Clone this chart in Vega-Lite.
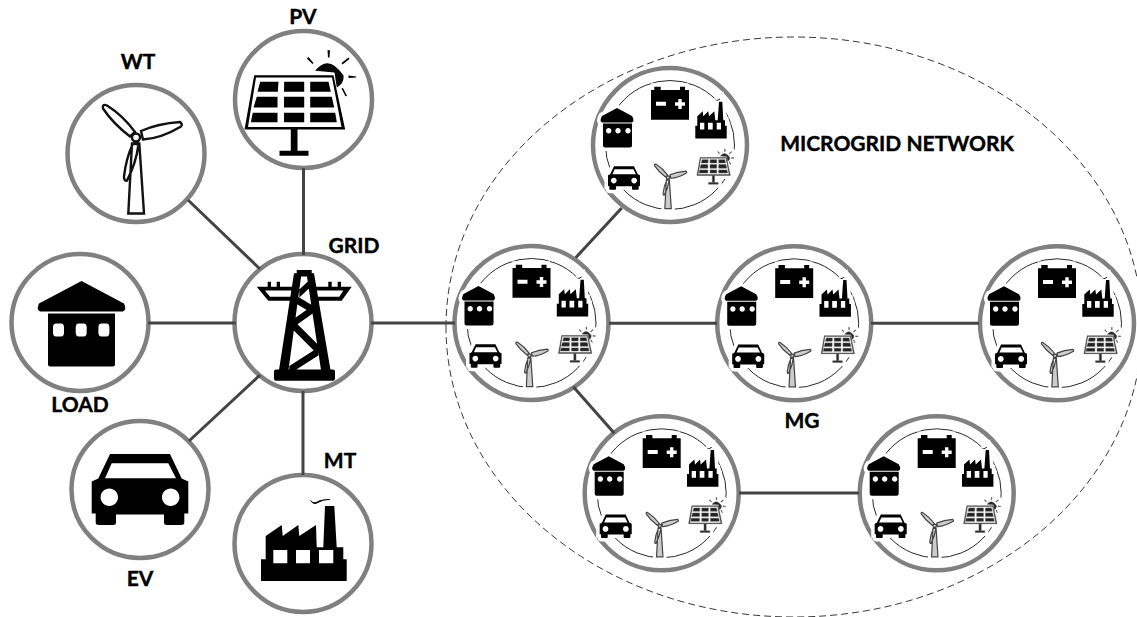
{
"$schema":"https://vega.github.io/schema/vega-lite/v6.json",
"width":1137,"height":617,"autosize":"none","padding":0,"background":"white",
"config":{"view":{"stroke":null},"legend":{"disable":true}},
"datasets":{
"ellipse":[{"name":"MICROGRID NETWORK","x":794,"y":327}],
"nodes":[
{"name":"PV","kind":"big","x":303.5,"y":99.5},
{"name":"WT","kind":"big","x":136,"y":153.5},
{"name":"LOAD","kind":"big","x":80,"y":322.5},
{"name":"GRID","kind":"big","x":303,"y":322.5},
{"name":"EV","kind":"big","x":140,"y":489.5},
{"name":"MT","kind":"big","x":303,"y":543.5},
{"name":"MG1","kind":"mg","x":531.5,"y":323},
{"name":"MG2","kind":"mg","x":670,"y":145},
{"name":"MG3","kind":"mg","x":794.2,"y":323.3},
{"name":"MG4","kind":"mg","x":1057,"y":323.3},
{"name":"MG5","kind":"mg","x":661.7,"y":493.3},
{"name":"MG6","kind":"mg","x":936.7,"y":493.3}
],
"edges":[
{"x":303.5,"y":168,"x2":303.5,"y2":255},
{"x":188,"y":200,"x2":260,"y2":269},
{"x":148,"y":323,"x2":236,"y2":323},
{"x":189,"y":441,"x2":260,"y2":375},
{"x":303,"y":391,"x2":303,"y2":475},
{"x":371,"y":323,"x2":455,"y2":323},
{"x":575.7,"y":257.7,"x2":621.7,"y2":208},
{"x":609,"y":323.3,"x2":717,"y2":323.3},
{"x":871,"y":323.3,"x2":979,"y2":323.3},
{"x":573.3,"y":386.7,"x2":614.3,"y2":433.3},
{"x":739,"y":493,"x2":859,"y2":493}
],
"icons":[
{"kind":"pv","x":303.5,"y":99.5},
{"kind":"wt","x":136,"y":153.5},
{"kind":"load","x":80,"y":322.5},
{"kind":"tower","x":303,"y":322.5},
{"kind":"car","x":140,"y":489.5},
{"kind":"factory","x":303,"y":543.5},
{"kind":"s_load","x":478.5,"y":306},{"kind":"s_battery","x":531.5,"y":282},{"kind":"s_factory","x":572.5,"y":296.5},{"kind":"s_pv","x":578,"y":343.5},{"kind":"s_wt","x":529.5,"y":362},{"kind":"s_car","x":485.5,"y":356},
{"kind":"s_load","x":617,"y":128},{"kind":"s_battery","x":670,"y":104},{"kind":"s_factory","x":711,"y":118.5},{"kind":"s_pv","x":716.5,"y":165.5},{"kind":"s_wt","x":668,"y":184},{"kind":"s_car","x":624,"y":178},
{"kind":"s_load","x":741.2,"y":306.3},{"kind":"s_battery","x":794.2,"y":282.3},{"kind":"s_factory","x":835.2,"y":296.8},{"kind":"s_pv","x":840.7,"y":343.8},{"kind":"s_wt","x":792.2,"y":362.3},{"kind":"s_car","x":748.2,"y":356.3},
{"kind":"s_load","x":1004,"y":306.3},{"kind":"s_battery","x":1057,"y":282.3},{"kind":"s_factory","x":1098,"y":296.8},{"kind":"s_pv","x":1103.5,"y":343.8},{"kind":"s_wt","x":1055,"y":362.3},{"kind":"s_car","x":1011,"y":356.3},
{"kind":"s_load","x":608.7,"y":476.3},{"kind":"s_battery","x":661.7,"y":452.3},{"kind":"s_factory","x":702.7,"y":466.8},{"kind":"s_pv","x":708.2,"y":513.8},{"kind":"s_wt","x":659.7,"y":532.3},{"kind":"s_car","x":615.7,"y":526.3},
{"kind":"s_load","x":883.7,"y":476.3},{"kind":"s_battery","x":936.7,"y":452.3},{"kind":"s_factory","x":977.7,"y":466.8},{"kind":"s_pv","x":983.2,"y":513.8},{"kind":"s_wt","x":934.7,"y":532.3},{"kind":"s_car","x":890.7,"y":526.3}
],
"labels":[
{"text":"PV","x":303,"y":17.5},
{"text":"WT","x":138,"y":63},
{"text":"GRID","x":354,"y":247},
{"text":"LOAD","x":80,"y":406},
{"text":"EV","x":140,"y":580},
{"text":"MT","x":340,"y":462},
{"text":"MG","x":802,"y":422},
{"text":"MICROGRID NETWORK","x":897,"y":145}
]
},
"encoding":{
"x":{"field":"x","type":"quantitative","axis":null,"scale":{"domain":[0,1137],"nice":false,"zero":false}},
"y":{"field":"y","type":"quantitative","axis":null,"scale":{"domain":[617,0],"nice":false,"zero":false}}
},
"layer":[
{"data":{"name":"ellipse"},
 "mark":{"type":"point","filled":false,"opacity":1,"size":4,"stroke":"#222222","strokeWidth":0.9,"strokeDash":[7,4],
 "shape":"M-348,0A348,290 0 1 1 348,0A348,290 0 1 1 -348,0Z"}},
{"data":{"name":"nodes"},"transform":[{"filter":"datum.kind==='big'"}],
 "mark":{"type":"point","shape":"circle","filled":true,"opacity":1,"fill":"white","stroke":"#808080","strokeWidth":4.5,"size":18769}},
{"data":{"name":"nodes"},"transform":[{"filter":"datum.kind==='mg'"}],
 "mark":{"type":"point","shape":"circle","filled":true,"opacity":1,"fill":"white","stroke":"#808080","strokeWidth":4.5,"size":23716}},
{"data":{"name":"nodes"},"transform":[{"filter":"datum.kind==='mg'"}],
 "mark":{"type":"point","shape":"circle","filled":false,"opacity":1,"stroke":"#111111","strokeWidth":0.9,"size":16641}},
{"data":{"name":"edges"},
 "mark":{"type":"rule","stroke":"#444444","strokeWidth":3},
 "encoding":{"x2":{"field":"x2"},"y2":{"field":"y2"}}},
{"data":{"name":"icons"},"transform":[{"filter":{"field":"kind","oneOf":["s_load","s_battery","s_factory","s_pv","s_wt","s_car"]}}],
 "mark":{"type":"point","filled":true,"opacity":1,"fill":"white","stroke":"white","strokeWidth":7},
 "encoding":{
 "size":{"field":"kind","type":"ordinal","scale":{"type":"ordinal","domain":["tower","load","car","factory","pv","wt","s_load","s_battery","s_factory","s_pv","s_wt","s_car"],"range":[4,4,4,4,4,4,4,4,4,0.44,0.67,0.44]}},
 "shape":{"field":"kind","type":"nominal","scale":{"domain":["tower","load","car","factory","pv","wt","s_load","s_battery","s_factory","s_pv","s_wt","s_car"],"range":[
"M-9,-49.2L-1.5,-49.2L-14.5,47.5L-24,47.5ZM3.5,-49.2L11,-49.2L27.5,47.5L18,47.5ZM-6.3,-52.5L8.7,-52.5L8.7,-46L-6.3,-46ZM-3.7,-33L7,-43L7,-35L-3.7,-25ZM-6.3,-26.5L9.7,-17L9.7,-9L-6.3,-18.5ZM-9.7,-3.2L9.7,-17L9.7,-9L-9.7,4.8ZM-9.7,-2.5L15.3,22.5L15.3,32.5L-9.7,7.5ZM-13.7,43.5L15.3,25L15.3,33L-13.7,51.5ZM-27,47L30,47Q32,47 32,49L32,56Q32,58.2 30,58.2L-27,58.2Q-29,58.2 -29,56L-29,49Q-29,47 -27,47ZM-46.3,-35.8L-8,-35.8L-9.7,-21.8L-34.7,-21.8ZM-38,-32L-33,-25.8L-11.3,-25.8L-11.3,-32ZM11,-35.8L48.7,-35.8L38.7,-21.8L12,-21.8ZM13.7,-32L13.7,-25.8L36.3,-25.8L40.3,-32ZM-35.3,-40.7L-32,-40.7L-32,-35L-35.3,-35ZM-26.3,-40.7L-23,-40.7L-23,-35L-26.3,-35ZM25.3,-40.7L28.7,-40.7L28.7,-35L25.3,-35ZM34.7,-40.7L38,-40.7L38,-35L34.7,-35Z",
"M1.5,-41.5L44,-19Q47,-13 43,-11L-40,-11Q-44,-13 -41,-19ZM-32,-9L35,-9L35,42Q35,44 33,44L-30,44Q-32,44 -32,42ZM-24,1Q-27,1 -27,5L-27,10Q-27,14 -24,14L-19,14Q-16,14 -16,10L-16,5Q-16,1 -19,1ZM-1.3,1Q-4.3,1 -4.3,5L-4.3,10Q-4.3,14 -1.3,14L3.7,14Q6.7,14 6.7,10L6.7,5Q6.7,1 3.7,1ZM21.4,1Q18.4,1 18.4,5L18.4,10Q18.4,14 21.4,14L26.4,14Q29.4,14 29.4,10L29.4,5Q29.4,1 26.4,1Z",
"M-30,-35.5L30,-35.5L41.7,-11L48.3,-8L48.3,24L44.3,24L44.3,33Q44.3,35.5 41,35.5L27,35.5Q24,35.5 24,33L24,25L-24,25L-24,33Q-24,35.5 -27,35.5L-41,35.5Q-44.3,35.5 -44.3,33L-44.3,24L-48.3,24L-48.3,-8L-41.7,-11ZM-28.3,-26.2L-35,-11.2L36,-11.2L28.3,-26.2ZM-39.4,7.8A8.7,8.7 0 1 0 -22,7.8A8.7,8.7 0 1 0 -39.4,7.8ZM22,7.8A8.7,8.7 0 1 0 39.4,7.8A8.7,8.7 0 1 0 22,7.8Z",
"M-42,37.5L-42,15.8L-37.3,15.8L-37.3,-7.5L-21.3,-18.5L-20.3,-7.5L-4.7,-18.5L-3.7,-7.5L13,-18.5L13.7,3.8L20.3,3.8L22,-37.5L31.3,-37.5L33.7,3.8L40.3,3.8L40.3,15.8L43.7,15.8L43.7,37.5ZM-29.7,6.5L-29.7,19.8L-15.7,19.8L-15.7,6.5ZM-7,6.5L-7,19.8L7,19.8L7,6.5ZM16,6.5L16,19.8L30.3,19.8L30.3,6.5ZM7,-44Q11,-39 16,-43Q21,-45 27,-44.5L27,-43.5Q20,-44 16,-41Q10,-37 7,-44Z",
"M-49.3,-24.3L30,-24.3L41.7,30L-59,30ZM-47.5,-22L-55.5,27.5L38,27.5L28.5,-22ZM-43.3,-17.7L-25,-17.7L-25.7,-7.7L-46,-7.7ZM-19.3,-17.7L0.7,-17.7L0.7,-7.7L-19.5,-7.7ZM6.7,-17.7L25,-17.7L27.3,-7.7L6.7,-7.7ZM-46.7,-2.7L-26,-2.7L-26,8L-50,8ZM-19.5,-2.7L0.7,-2.7L0.7,8L-19.5,8ZM6.7,-2.7L28.3,-2.7L30.7,8L6.7,8ZM-50.7,13.3L-26,13.3L-26,22.7L-52.7,22.7ZM-19.5,13.3L0.7,13.3L0.7,22.7L-19.5,22.7ZM6.7,13.3L31.7,13.3L33.3,22.7L6.7,22.7ZM-12.7,30L-6,30L-6,52L-12.7,52ZM-24,51.3L5,51.3L5,56.3L-24,56.3ZM11.7,-28.7Q25,-46 40,-24Q41,-16 33.3,-12L31,-27ZM24,-49.3L26.5,-49.3L26,-42L24.5,-42ZM3.3,-41L5,-42.5L10,-36.5L9,-35.5ZM45,-42L46,-40.5L39,-35L38,-36.5ZM45,-24L52.7,-23L52.7,-22L45,-21.5ZM38,-11L39.5,-11.5L43.5,-3.5L42,-3.3Z",
"M-7.7,60L-4,-10L3.3,-10L8,60ZM-6,-17Q-23,-30 -33,-45Q-34,-50 -29,-48Q-13,-38 -1,-21.5ZM5,-22.5Q22,-30 44,-31.5Q47,-29 45,-27Q25,-15 7,-14ZM-3,-10Q-10,5 -12,23Q-12,28 -9,27Q0,10 2.5,-9ZM-4,-16A4,4 0 1 1 4,-16A4,4 0 1 1 -4,-16Z",
"M0,-20L15,-12Q18,-7 15,-5.5L-15,-5.5Q-18,-7 -15,-12ZM-14,-4.5L15,-4.5L15,17.5Q15,19.5 13,19.5L-12,19.5Q-14,19.5 -14,17.5ZM-11,2.7A2.7,2.7 0 1 0 -5.6,2.7A2.7,2.7 0 1 0 -11,2.7ZM-1.7,2.7A2.7,2.7 0 1 0 3.7,2.7A2.7,2.7 0 1 0 -1.7,2.7ZM8.3,2.7A2.7,2.7 0 1 0 13.7,2.7A2.7,2.7 0 1 0 8.3,2.7Z",
"M-19,-14L19,-14L19,15.7L-19,15.7ZM-15.7,-17.3L-9.3,-17.3L-9.3,-14L-15.7,-14ZM10,-17.3L15,-17.3L15,-14L10,-14ZM-14,-2.3L-14,1.7L-4,1.7L-4,-2.3ZM5,-1.7L5,1.7L8.3,1.7L8.3,5L11.7,5L11.7,1.7L15,1.7L15,-1.7L11.7,-1.7L11.7,-5L8.3,-5L8.3,-1.7Z",
"M-15.7,20L-15.7,7.3L-13.7,7.3L-13.7,-2.3L-8.3,-7.3L-7.7,-2.3L-2.7,-7.3L-2,-2.3L3.3,-7.3L4.3,1.7L6.7,1.7L8,-16.7L11.3,-16.7L12.3,1.7L14,1.7L14,7.3L15.7,7.3L15.7,20ZM-11,4.3L-11,11L-6.7,11L-6.7,4.3ZM-3,4.3L-3,11L1.7,11L1.7,4.3ZM5.7,4.3L5.7,11L10,11L10,4.3ZM3.3,-19.5Q6,-17.5 9,-20L9,-19Q6,-16.5 3.3,-19.5Z",
"M-49.3,-24.3L30,-24.3L41.7,30L-59,30ZM-47.5,-22L-55.5,27.5L38,27.5L28.5,-22ZM-43.3,-17.7L-25,-17.7L-25.7,-7.7L-46,-7.7ZM-19.3,-17.7L0.7,-17.7L0.7,-7.7L-19.5,-7.7ZM6.7,-17.7L25,-17.7L27.3,-7.7L6.7,-7.7ZM-46.7,-2.7L-26,-2.7L-26,8L-50,8ZM-19.5,-2.7L0.7,-2.7L0.7,8L-19.5,8ZM6.7,-2.7L28.3,-2.7L30.7,8L6.7,8ZM-50.7,13.3L-26,13.3L-26,22.7L-52.7,22.7ZM-19.5,13.3L0.7,13.3L0.7,22.7L-19.5,22.7ZM6.7,13.3L31.7,13.3L33.3,22.7L6.7,22.7ZM-12.7,30L-6,30L-6,52L-12.7,52ZM-24,51.3L5,51.3L5,56.3L-24,56.3ZM11.7,-28.7Q25,-46 40,-24Q41,-16 33.3,-12L31,-27ZM24,-49.3L26.5,-49.3L26,-42L24.5,-42ZM3.3,-41L5,-42.5L10,-36.5L9,-35.5ZM45,-42L46,-40.5L39,-35L38,-36.5ZM45,-24L52.7,-23L52.7,-22L45,-21.5ZM38,-11L39.5,-11.5L43.5,-3.5L42,-3.3Z",
"M-7.7,60L-4,-10L3.3,-10L8,60ZM-6,-17Q-23,-30 -33,-45Q-34,-50 -29,-48Q-13,-38 -1,-21.5ZM5,-22.5Q22,-30 44,-31.5Q47,-29 45,-27Q25,-15 7,-14ZM-3,-10Q-10,5 -12,23Q-12,28 -9,27Q0,10 2.5,-9ZM-4,-16A4,4 0 1 1 4,-16A4,4 0 1 1 -4,-16Z",
"M-30,-35.5L30,-35.5L41.7,-11L48.3,-8L48.3,24L44.3,24L44.3,33Q44.3,35.5 41,35.5L27,35.5Q24,35.5 24,33L24,25L-24,25L-24,33Q-24,35.5 -27,35.5L-41,35.5Q-44.3,35.5 -44.3,33L-44.3,24L-48.3,24L-48.3,-8L-41.7,-11ZM-28.3,-26.2L-35,-11.2L36,-11.2L28.3,-26.2ZM-39.4,7.8A8.7,8.7 0 1 0 -22,7.8A8.7,8.7 0 1 0 -39.4,7.8ZM22,7.8A8.7,8.7 0 1 0 39.4,7.8A8.7,8.7 0 1 0 22,7.8Z"
]}}
 }},
{"data":{"name":"icons"},"transform":[{"filter":"datum.kind!=='wt' && datum.kind!=='s_wt' && datum.kind!=='s_pv'"}],
 "mark":{"type":"point","filled":true,"opacity":1,"fill":"#000000","strokeWidth":0},
 "encoding":{
 "size":{"field":"kind","type":"ordinal","scale":{"type":"ordinal","domain":["tower","load","car","factory","pv","wt","s_load","s_battery","s_factory","s_pv","s_wt","s_car"],"range":[4,4,4,4,4,4,4,4,4,0.44,0.67,0.44]}},
 "shape":{"field":"kind","type":"nominal"}
 }},
{"data":{"name":"icons"},"transform":[{"filter":"datum.kind==='s_pv'"}],
 "mark":{"type":"point","filled":true,"opacity":1,"fill":"#222222","stroke":"#666666","strokeWidth":0.5},
 "encoding":{"size":{"field":"kind","type":"ordinal","scale":{"type":"ordinal","domain":["tower","load","car","factory","pv","wt","s_load","s_battery","s_factory","s_pv","s_wt","s_car"],"range":[4,4,4,4,4,4,4,4,4,0.44,0.67,0.44]}},"shape":{"field":"kind","type":"nominal"}}},
{"data":{"name":"icons"},"transform":[{"filter":"datum.kind==='wt'"}],
 "mark":{"type":"point","filled":true,"opacity":1,"fill":"white","stroke":"#111111","strokeWidth":2.4},
 "encoding":{"size":{"field":"kind","type":"ordinal","scale":{"type":"ordinal","domain":["tower","load","car","factory","pv","wt","s_load","s_battery","s_factory","s_pv","s_wt","s_car"],"range":[4,4,4,4,4,4,4,4,4,0.44,0.67,0.44]}},"shape":{"field":"kind","type":"nominal"}}},
{"data":{"name":"icons"},"transform":[{"filter":"datum.kind==='s_wt'"}],
 "mark":{"type":"point","filled":true,"opacity":1,"fill":"#cccccc","stroke":"#444444","strokeWidth":1.2},
 "encoding":{"size":{"field":"kind","type":"ordinal","scale":{"type":"ordinal","domain":["tower","load","car","factory","pv","wt","s_load","s_battery","s_factory","s_pv","s_wt","s_car"],"range":[4,4,4,4,4,4,4,4,4,0.44,0.67,0.44]}},"shape":{"field":"kind","type":"nominal"}}},
{"data":{"name":"labels"},
 "mark":{"type":"text","font":"Lato","fontWeight":"bold","fontSize":21,"color":"black","stroke":"black","strokeWidth":0.4,"align":"center","baseline":"middle"},
 "encoding":{"text":{"field":"text"}}}
]
}
